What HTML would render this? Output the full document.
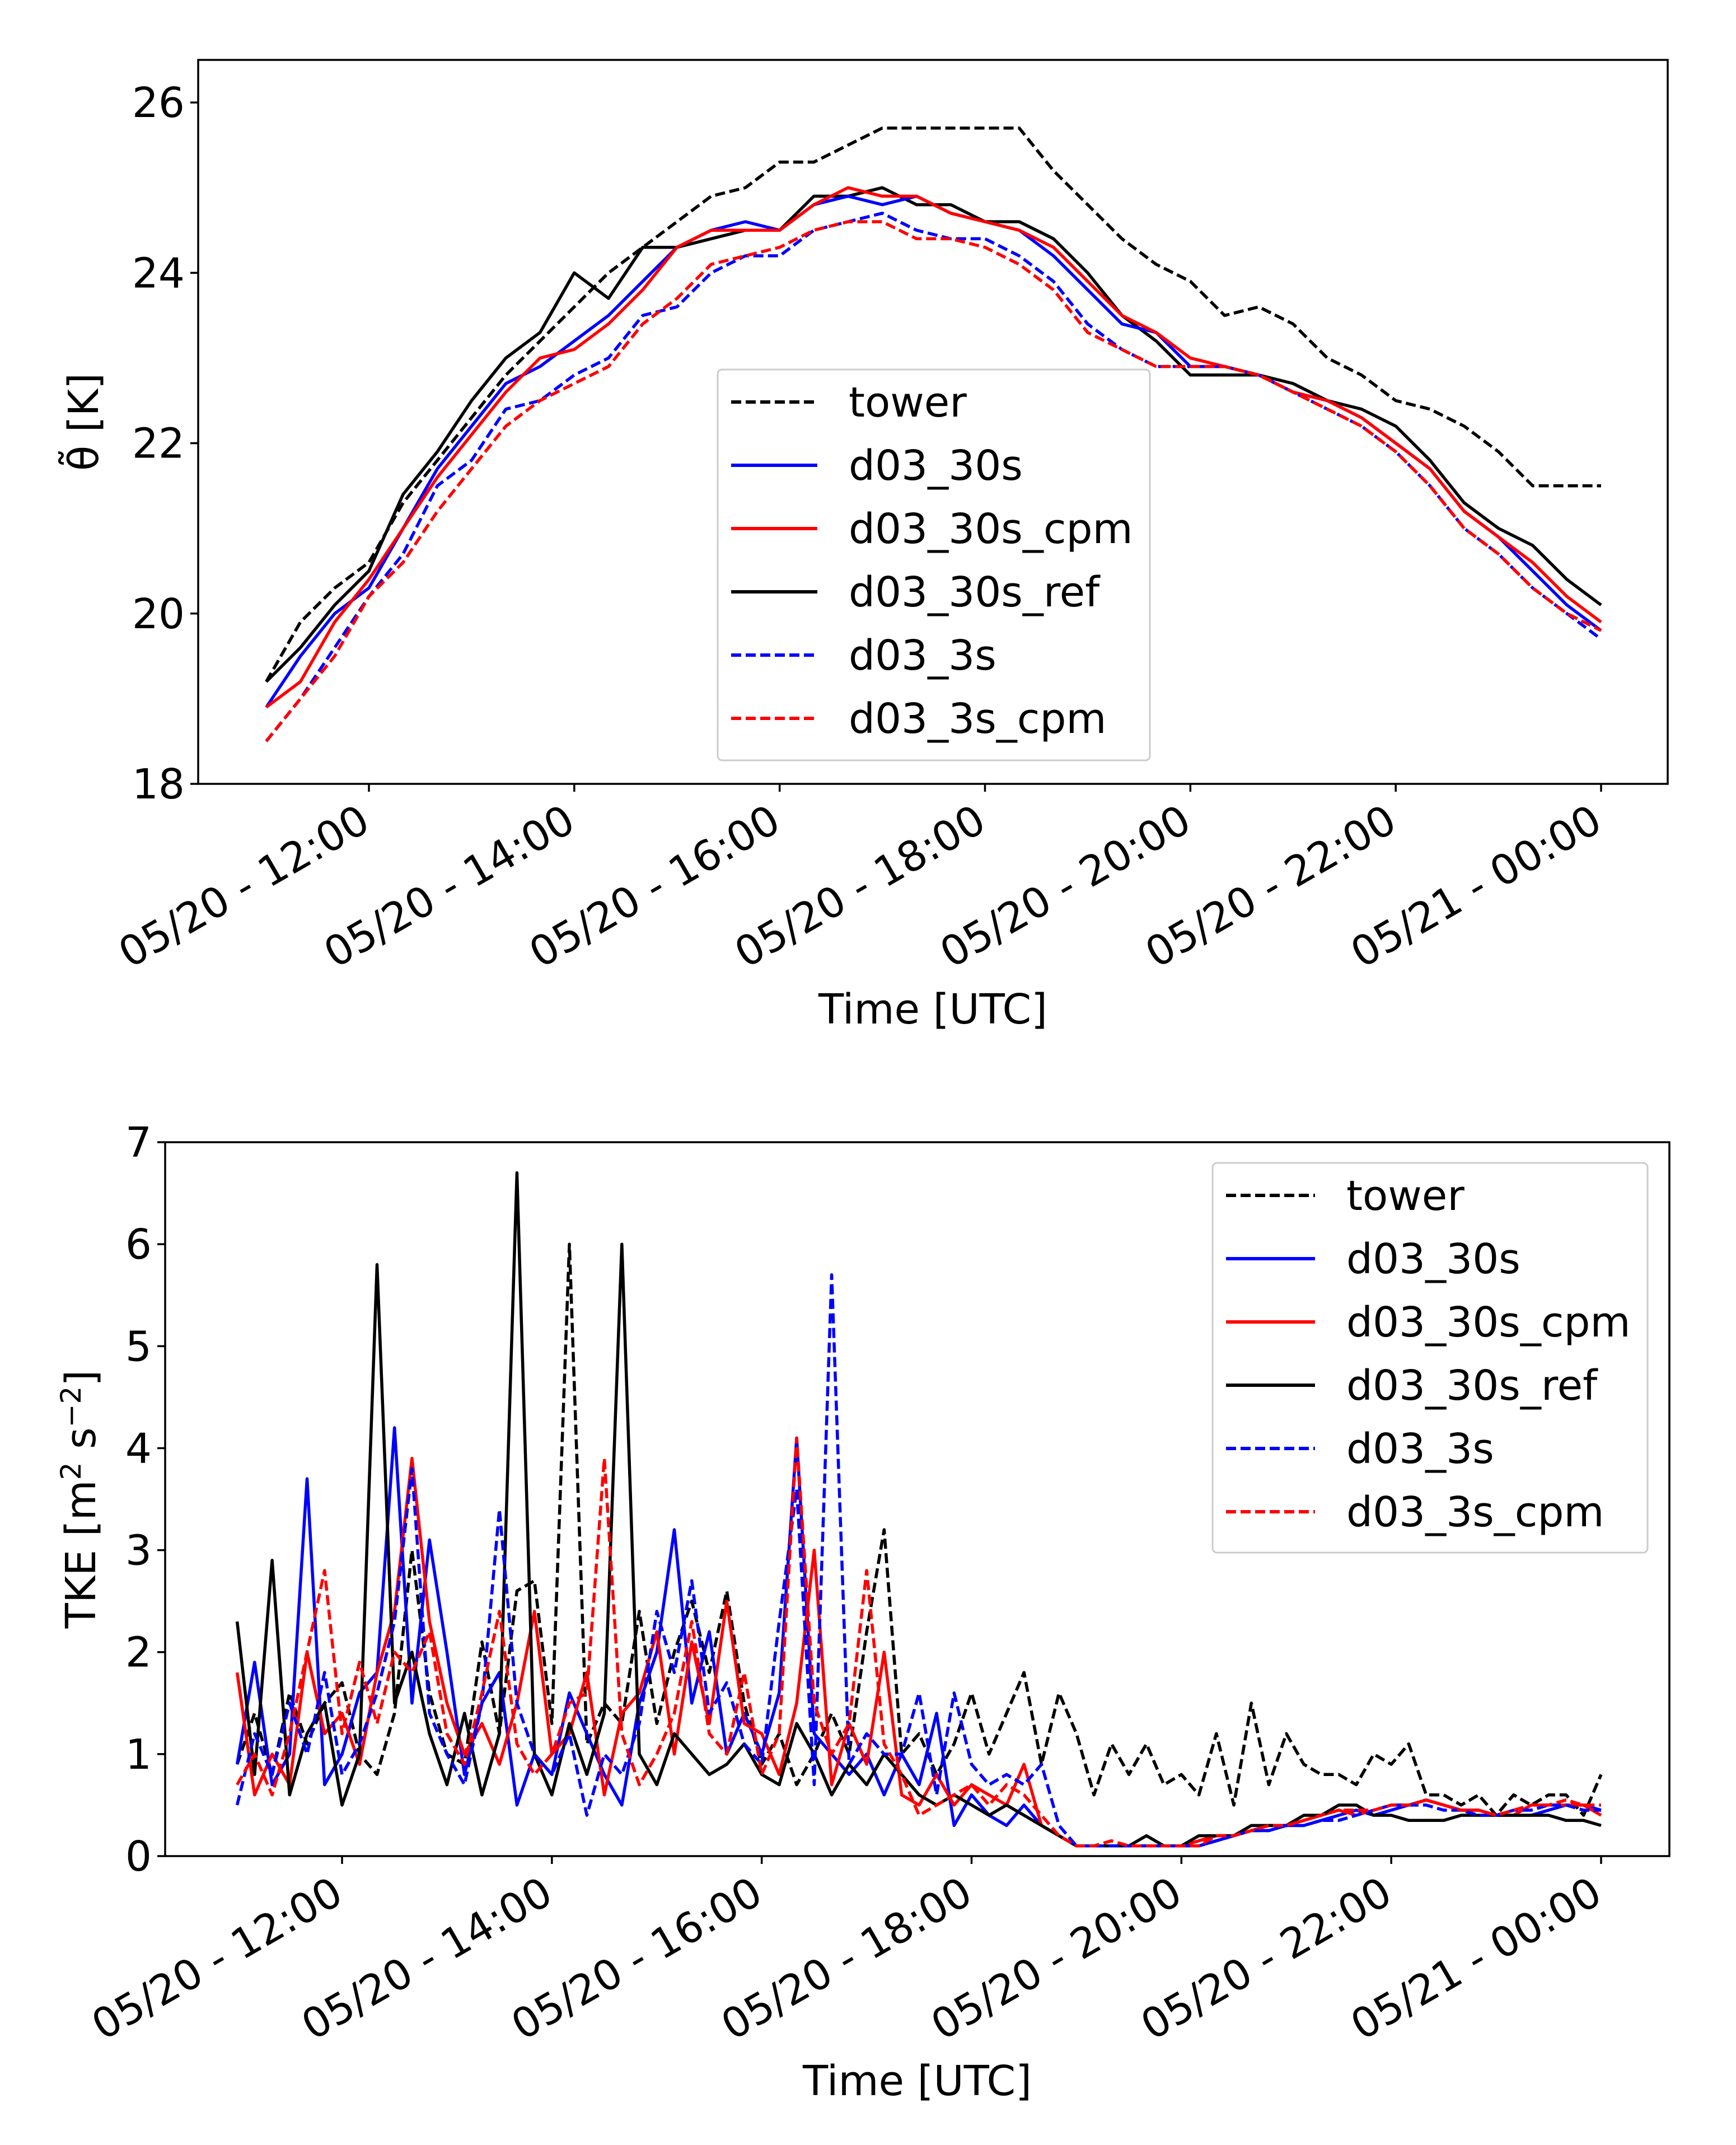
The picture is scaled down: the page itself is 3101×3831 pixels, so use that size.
<!DOCTYPE html>
<html><head><meta charset="utf-8"><style>
html,body{margin:0;padding:0;background:#fff;}
svg{display:block;font-family:"DejaVu Sans","Liberation Sans",sans-serif;}
</style></head><body>
<svg id="fig" width="3101" height="3831" viewBox="0 0 3101 3831" xmlns="http://www.w3.org/2000/svg">
<rect width="3101" height="3831" fill="#fff"/>
<g id="top"></g>
<g id="bot"></g>
</svg>
<script>
const tickLabels=["05/20 - 12:00","05/20 - 14:00","05/20 - 16:00","05/20 - 18:00","05/20 - 20:00","05/20 - 22:00","05/21 - 00:00"];
const tickHours=[12,14,16,18,20,22,24];
const seriesNames=["tower","d03_30s","d03_30s_cpm","d03_30s_ref","d03_3s","d03_3s_cpm"];
const thetaTicks=[18,20,22,24,26];
const tkeTicks=[0,1,2,3,4,5,6,7];
// theta, 20-min steps from 11:00
const thTower=[19.2,19.9,20.3,20.6,21.3,21.8,22.3,22.8,23.2,23.6,24.0,24.3,24.6,24.9,25.0,25.3,25.3,25.5,25.7,25.7,25.7,25.7,25.7,25.2,24.8,24.4,24.1,23.9,23.5,23.6,23.4,23.0,22.8,22.5,22.4,22.2,21.9,21.5,21.5,21.5];
const th30s=[18.9,19.5,20.0,20.3,21.0,21.7,22.2,22.7,22.9,23.2,23.5,23.9,24.3,24.5,24.6,24.5,24.8,24.9,24.8,24.9,24.7,24.6,24.5,24.2,23.8,23.4,23.3,22.9,22.9,22.8,22.6,22.5,22.3,22.0,21.7,21.2,20.9,20.5,20.1,19.8];
const th30sCpm=[18.9,19.2,19.9,20.4,21.0,21.6,22.1,22.6,23.0,23.1,23.4,23.8,24.3,24.5,24.5,24.5,24.8,25.0,24.9,24.9,24.7,24.6,24.5,24.3,23.9,23.5,23.3,23.0,22.9,22.8,22.6,22.5,22.3,22.0,21.7,21.2,20.9,20.6,20.2,19.9];
const th30sRef=[19.2,19.6,20.1,20.5,21.4,21.9,22.5,23.0,23.3,24.0,23.7,24.3,24.3,24.4,24.5,24.5,24.9,24.9,25.0,24.8,24.8,24.6,24.6,24.4,24.0,23.5,23.2,22.8,22.8,22.8,22.7,22.5,22.4,22.2,21.8,21.3,21.0,20.8,20.4,20.1];
const th3s=[18.5,19.0,19.6,20.2,20.7,21.5,21.8,22.4,22.5,22.8,23.0,23.5,23.6,24.0,24.2,24.2,24.5,24.6,24.7,24.5,24.4,24.4,24.2,23.9,23.4,23.1,22.9,22.9,22.9,22.8,22.6,22.4,22.2,21.9,21.5,21.0,20.7,20.3,20.0,19.7];
const th3sCpm=[18.5,19.0,19.5,20.2,20.6,21.2,21.7,22.2,22.5,22.7,22.9,23.4,23.7,24.1,24.2,24.3,24.5,24.6,24.6,24.4,24.4,24.3,24.1,23.8,23.3,23.1,22.9,22.9,22.9,22.8,22.6,22.4,22.2,21.9,21.5,21.0,20.7,20.3,20.0,19.8];
// TKE, 10-min steps from 11:00
const tkTower=[0.9,1.4,0.8,1.6,1.1,1.5,1.7,1.0,0.8,1.4,3.0,1.6,1.0,0.9,2.1,1.2,2.6,2.7,1.3,6.0,1.1,1.5,1.3,2.4,1.3,2.0,2.5,1.8,2.6,1.5,0.9,1.2,0.7,1.0,1.4,1.0,2.2,3.2,1.0,1.2,0.8,1.1,1.6,1.0,1.4,1.8,0.9,1.6,1.2,0.6,1.1,0.8,1.1,0.7,0.8,0.6,1.2,0.5,1.5,0.7,1.2,0.9,0.8,0.8,0.7,1.0,0.9,1.1,0.6,0.6,0.5,0.6,0.4,0.6,0.5,0.6,0.6,0.4,0.8];
const tk30s=[0.9,1.9,0.7,1.0,3.7,0.7,1.0,1.6,1.8,4.2,1.5,3.1,2.0,0.8,1.5,1.8,0.5,1.0,0.8,1.6,1.2,0.8,0.5,1.5,2.0,3.2,1.5,2.2,1.0,1.4,1.0,1.6,4.1,1.2,1.0,0.8,1.0,0.6,1.0,0.7,1.4,0.3,0.6,0.4,0.3,0.5,0.3,0.2,0.1,0.1,0.1,0.1,0.1,0.1,0.1,0.1,0.15,0.2,0.25,0.25,0.3,0.3,0.35,0.4,0.45,0.4,0.45,0.5,0.55,0.5,0.45,0.45,0.4,0.4,0.4,0.45,0.5,0.5,0.45];
const tk30sCpm=[1.8,0.6,1.0,0.7,2.0,1.2,1.4,0.9,1.8,2.4,3.9,2.3,1.5,1.0,1.3,0.9,1.5,2.4,1.0,1.2,1.8,0.6,1.4,1.6,2.2,1.0,2.1,1.3,2.5,1.3,1.2,0.8,1.5,3.0,0.7,1.3,0.9,2.0,0.6,0.5,0.8,0.5,0.7,0.6,0.5,0.9,0.3,0.2,0.1,0.1,0.1,0.1,0.1,0.1,0.1,0.15,0.2,0.2,0.25,0.3,0.3,0.35,0.4,0.45,0.4,0.45,0.5,0.5,0.55,0.5,0.45,0.45,0.4,0.4,0.5,0.5,0.5,0.5,0.4];
const tk30sRef=[2.3,0.8,2.9,0.6,1.2,1.5,0.5,1.0,5.8,1.5,2.0,1.2,0.7,1.4,0.6,1.2,6.7,1.0,0.6,1.3,0.8,1.4,6.0,1.0,0.7,1.2,1.0,0.8,0.9,1.1,0.8,0.7,1.3,1.0,0.6,0.9,0.7,1.0,0.8,0.6,0.5,0.6,0.5,0.4,0.5,0.4,0.3,0.2,0.1,0.1,0.1,0.1,0.2,0.1,0.1,0.2,0.2,0.2,0.3,0.3,0.3,0.4,0.4,0.5,0.5,0.4,0.4,0.35,0.35,0.35,0.4,0.4,0.4,0.4,0.4,0.4,0.35,0.35,0.3];
const tk3s=[0.5,1.2,0.8,1.5,1.0,1.8,0.8,1.1,1.6,2.3,3.8,1.4,1.0,0.7,1.5,3.4,1.5,1.0,0.8,1.2,0.4,1.0,0.8,1.3,2.4,1.8,2.7,1.4,1.7,1.1,0.9,2.3,3.6,0.7,5.7,0.9,1.2,1.0,1.0,1.6,0.6,1.6,0.9,0.7,0.8,0.7,0.9,0.3,0.1,0.1,0.1,0.1,0.1,0.1,0.1,0.1,0.15,0.2,0.25,0.25,0.3,0.3,0.35,0.35,0.4,0.45,0.5,0.5,0.5,0.45,0.45,0.4,0.4,0.45,0.45,0.5,0.5,0.45,0.45];
const tk3sCpm=[0.7,1.0,0.6,1.2,2.0,2.8,1.2,1.9,1.3,2.0,1.8,2.2,1.2,0.9,1.6,2.4,1.1,0.8,1.0,1.5,1.6,3.9,1.2,0.7,1.0,1.4,2.3,1.2,1.0,1.8,0.8,1.2,4.1,1.5,1.0,1.3,2.8,1.1,0.8,0.4,0.5,0.6,0.7,0.5,0.7,0.6,0.4,0.2,0.1,0.1,0.15,0.1,0.1,0.1,0.1,0.1,0.2,0.2,0.25,0.3,0.3,0.35,0.4,0.45,0.45,0.45,0.5,0.5,0.55,0.5,0.45,0.45,0.4,0.45,0.5,0.5,0.55,0.5,0.5];

const NS="http://www.w3.org/2000/svg";
function mk(parent,tag,attrs){const e=document.createElementNS(NS,tag);for(const k in attrs)e.setAttribute(k,attrs[k]);parent.appendChild(e);return e;}
const styles=[{c:"#000",d:true},{c:"#0000ff",d:false},{c:"#ff0000",d:false},{c:"#000",d:false},{c:"#0000ff",d:true},{c:"#ff0000",d:true}];
const DASH="18,8";
const FS=74;

function panel(g,cfg){
  const {L,R,T,B,x12,x24,yMin,yMax,ticks,series,step,drawOrder,legend,ylabel,ylabelX,xlabelY,slug}=cfg;
  const xs=h=>x12+(h-12)*(x24-x12)/12;
  const ys=v=>B-(v-yMin)*(B-T)/(yMax-yMin);
  drawOrder.forEach(si=>{
    const arr=series[si];
    const pts=arr.map((v,i)=>xs(11+i*step).toFixed(1)+","+ys(v).toFixed(1)).join(" ");
    const p=mk(g,"polyline",{points:pts,fill:"none",stroke:styles[si].c,"stroke-width":5.5,"stroke-linejoin":"round"});
    if(styles[si].d)p.setAttribute("stroke-dasharray",DASH);
    
    
  });
  const fr=mk(g,"rect",{x:L,y:T,width:R-L,height:B-T,fill:"none",stroke:"#000","stroke-width":3.5});
  
  
  ticks.forEach(v=>{
    const y=ys(v);
    mk(g,"line",{x1:L-14,x2:L,y1:y,y2:y,stroke:"#000","stroke-width":3.5});
    const t=mk(g,"text",{x:L-24,y:y+26,"text-anchor":"end","font-size":FS,fill:"#000"});
    t.textContent=v;
    
    
  });
  tickHours.forEach((h,i)=>{
    const x=xs(h);
    mk(g,"line",{x1:x,x2:x,y1:B,y2:B+14,stroke:"#000","stroke-width":3.5});
    const t=mk(g,"text",{x:0,y:0,"text-anchor":"end","font-size":FS,fill:"#000",transform:`translate(${x+6},${B+80}) rotate(-30)`});
    t.textContent=tickLabels[i];
    
    
  });
  const xl=mk(g,"text",{x:(L+R)/2,y:xlabelY,"text-anchor":"middle","font-size":FS,fill:"#000"});
  xl.textContent="Time [UTC]";
  
  
  const yl=mk(g,"text",{x:0,y:0,"text-anchor":"middle","font-size":FS,fill:"#000",transform:`translate(${ylabelX},${(T+B)/2}) rotate(-90)`});
  yl.innerHTML=ylabel;
  
  
  const lg=mk(g,"g",{});
  
  
  mk(lg,"rect",{x:legend.x,y:legend.y,width:legend.w,height:legend.h,rx:8,fill:"#fff","fill-opacity":0.85,stroke:"#ccc","stroke-width":3});
  seriesNames.forEach((n,i)=>{
    const y=legend.y0+i*legend.dy;
    const e=mk(lg,"g",{});
    
    
    const l=mk(e,"line",{x1:legend.lx1,x2:legend.lx2,y1:y,y2:y,stroke:styles[i].c,"stroke-width":6});
    if(styles[i].d)l.setAttribute("stroke-dasharray",DASH);
    const t=mk(e,"text",{x:legend.tx,y:y+26,"font-size":FS,fill:"#000"});
    t.textContent=n;
  });
}
panel(document.getElementById("top"),{L:354,R:2979,T:107,B:1400,x12:659,x24:2860,yMin:18,yMax:26.5,
  ticks:thetaTicks,series:[thTower,th30s,th30sCpm,th30sRef,th3s,th3sCpm],step:1/3,drawOrder:[0,3,1,2,4,5],slug:"theta",
  legend:{x:1282,y:660,w:772,h:698,y0:718,dy:113,lx1:1306,lx2:1460,tx:1516},
  ylabel:"θ̃ [K]",ylabelX:175,xlabelY:1828});
panel(document.getElementById("bot"),{L:295,R:2982,T:2040,B:3315,x12:611,x24:2860,yMin:0,yMax:7,
  ticks:tkeTicks,series:[tkTower,tk30s,tk30sCpm,tk30sRef,tk3s,tk3sCpm],step:1/6,drawOrder:[0,1,2,3,4,5],slug:"tke",
  legend:{x:2166,y:2077,w:777,h:696,y0:2135,dy:113,lx1:2190,lx2:2349,tx:2405},
  ylabel:'TKE [m<tspan font-size="50" dy="-26">2</tspan><tspan dy="26"> s</tspan><tspan font-size="50" dy="-26">−2</tspan><tspan dy="26">]</tspan>',ylabelX:170,xlabelY:3742});
</script>
</body></html>
